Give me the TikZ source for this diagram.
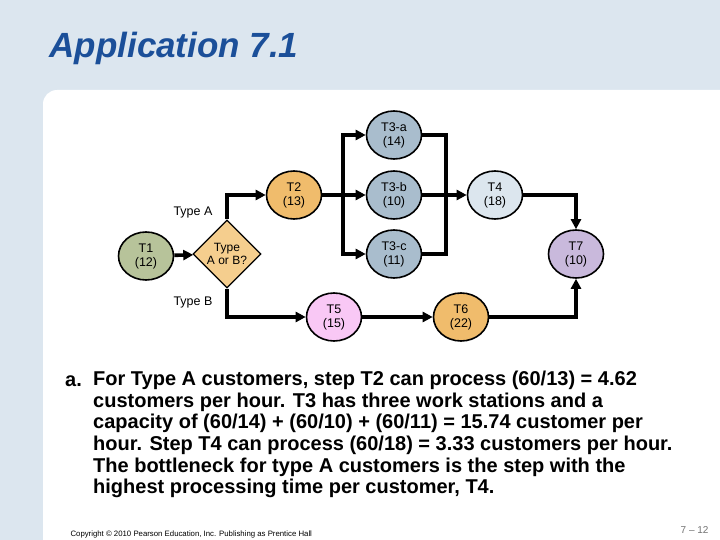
\documentclass[tikz,border=0pt]{standalone}
\usepackage{fontspec}
\setmainfont{Liberation Sans}
\usetikzlibrary{shapes.geometric, arrows.meta, positioning, calc}
\definecolor{slidebg}{HTML}{DCE6EF}
\definecolor{titleblue}{HTML}{1B4F99}
\definecolor{sage}{HTML}{B7C39A}
\definecolor{tan}{HTML}{F5CE8E}
\definecolor{amber}{HTML}{F0BC6C}
\definecolor{steel}{HTML}{A9BDCD}
\definecolor{pale}{HTML}{DCE6EE}
\definecolor{pink}{HTML}{F9C8F5}
\definecolor{lavender}{HTML}{C9B9DC}
\tikzset{
  task/.style={ellipse, draw, line width=1.6pt, minimum width=55pt, minimum height=48pt, inner sep=0pt, align=center, font=\fontsize{12.5}{14}\selectfont},
  choice/.style={diamond, draw, line width=1.2pt, fill=tan, minimum width=68pt, minimum height=68pt, inner sep=0pt, align=center, font=\fontsize{12}{13}\selectfont},
  flow/.style={-{Triangle[length=10pt, width=10pt]}, line width=3.6pt},
  link/.style={line width=3.6pt},
  caption/.style={font=\fontsize{12.5}{14}\selectfont},
}

\begin{document}
\begin{tikzpicture}[x=1pt, y=-1pt]
  % Slide background
  \fill[slidebg] (0,0) rectangle (720,540);
  \fill[white] (43,540) [rounded corners=14pt] -- (43,90) [sharp corners] -- (720,90) -- (720,540) -- cycle;
  \useasboundingbox (0,0) rectangle (720,540);

  \node[anchor=base west, text=titleblue, font=\fontsize{35}{40}\selectfont\bfseries\itshape] (title) at (46,58) {Application 7.1};

  % Tasks
  \node[task, fill=sage] (t1) at (146,256) {T1\\(12)};
  \node[choice] (ab) at (227,254) {Type\\A or B?};
  \node[task, fill=amber] (t2) at (294,195) {T2\\(13)};
  \node[task, fill=steel] (t3a) at (394,135) {T3-a\\(14)};
  \node[task, fill=steel] (t3b) at (394,195) {T3-b\\(10)};
  \node[task, fill=steel] (t3c) at (394,254) {T3-c\\(11)};
  \node[task, fill=pale] (t4) at (495,195) {T4\\(18)};
  \node[task, fill=lavender] (t7) at (576,254) {T7\\(10)};
  \node[task, fill=pink] (t5) at (334,317) {T5\\(15)};
  \node[task, fill=amber] (t6) at (461,317) {T6\\(22)};

  \node[caption] (typea) at (193,212) {Type A};
  \node[caption] (typeb) at (193,302) {Type B};

  % Connectors
  \coordinate (fork) at (343,195);
  \coordinate (join) at (446,195);
  \draw[flow] (t1) -- (ab);
  \draw[flow] (ab.north) |- (t2);
  \draw[flow] (ab.south) |- (t5);
  \draw[link] (t2) -- (fork);
  \draw[flow] (fork) |- (t3a);
  \draw[flow] (fork) -- (t3b);
  \draw[flow] (fork) |- (t3c);
  \draw[link] (t3a) -| (join);
  \draw[link] (t3c) -| (join);
  \draw[flow] (t3b) -- (t4);
  \draw[flow] (t4) -| (t7);
  \draw[flow] (t5) -- (t6);
  \draw[flow] (t6) -| (t7);

  % Answer text
  \node[anchor=base west, inner sep=0pt, font=\fontsize{20}{21.6}\selectfont\bfseries] (item) at (65,386) {a.};
  \node[anchor=north west, inner sep=0pt, align=left, font=\fontsize{20}{21.6}\selectfont\bfseries] (answer) at (93,371)
    {For Type A customers, step T2 can process (60/13) = 4.62\\
     customers per hour. T3 has three work stations and a\\
     capacity of (60/14) + (60/10) + (60/11) = 15.74 customer per\\
     hour. Step T4 can process (60/18) = 3.33 customers per hour.\\
     The bottleneck for type A customers is the step with the\\
     highest processing time per customer, T4.};

  \node[anchor=base west, font=\fontsize{7.8}{9}\selectfont] (copy) at (67,536) {Copyright © 2010 Pearson Education, Inc. Publishing as Prentice Hall};
  \node[anchor=base east, text=black!55, font=\fontsize{10}{12}\selectfont] (page) at (712,533) {7 – 12};
\end{tikzpicture}
\end{document}
